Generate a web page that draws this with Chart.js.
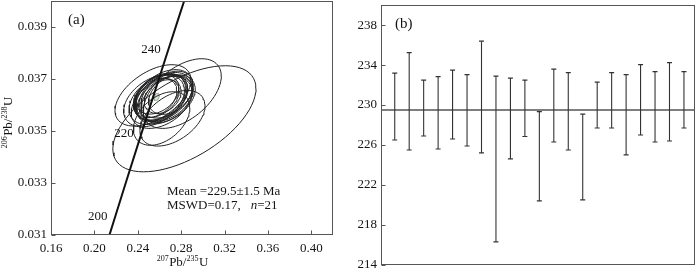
<!DOCTYPE html>
<html>
<head>
<meta charset="utf-8">
<script src="https://cdn.jsdelivr.net/npm/chart.js@4.4.0/dist/chart.umd.min.js"></script>
<style>
  body { margin: 0; background: #fff; }
  #wrap { position: relative; width: 700px; height: 270px; }
  #chartA { position: absolute; left: 0; top: 0; }
  #chartB { position: absolute; left: 350px; top: 0; }
</style>
</head>
<body>
<div id="wrap">
  <canvas id="chartA" width="345" height="270"></canvas>
  <canvas id="chartB" width="350" height="270"></canvas>
</div>
<script>
// concordia points (age in Ma, 207Pb/235U, 206Pb/238U)
let concordiaAges = [190, 200, 210, 220, 230, 240, 250, 260];
let concordiaX = [0.205774, 0.217708, 0.22976, 0.241931, 0.254222, 0.266636, 0.279172, 0.29183];
let concordiaY = [0.0299124, 0.0315113, 0.0331126, 0.0347164, 0.0363228, 0.0379316, 0.039543, 0.0411568];
let labeledAges = [200, 220, 240];

// spot ellipses: centre, half widths, correlation
let ellX = [0.262, 0.254, 0.258, 0.265, 0.26, 0.268, 0.281, 0.283, 0.262, 0.256, 0.272,
            0.266, 0.259, 0.262, 0.263, 0.27, 0.255, 0.267, 0.261, 0.264, 0.258];
let ellY = [0.03629, 0.03637, 0.03627, 0.03619, 0.03632, 0.03624, 0.03644, 0.03547, 0.0361, 0.03627, 0.03549,
            0.03631, 0.03622, 0.03548, 0.03632, 0.03639, 0.03616, 0.0364, 0.03628, 0.03636, 0.0364];
let ellSx = [0.024, 0.035, 0.02, 0.026, 0.024, 0.025, 0.036, 0.066, 0.028, 0.02, 0.03,
             0.025, 0.027, 0.026, 0.017, 0.02, 0.028, 0.024, 0.024, 0.027, 0.02];
let ellSy = [0.00088, 0.00118, 0.00075, 0.00092, 0.0009, 0.00092, 0.00134, 0.00204, 0.001, 0.00076, 0.00107,
             0.00094, 0.00097, 0.00103, 0.00065, 0.00075, 0.001, 0.0009, 0.0009, 0.001, 0.00075];
let ellRho = [0.4, 0.5, 0.35, 0.4, 0.35, 0.4, 0.5, 0.57, 0.4, 0.35, 0.45,
              0.35, 0.4, 0.4, 0.3, 0.35, 0.4, 0.4, 0.35, 0.4, 0.35];
let meanEll = [0.2574, 0.03631, 0.0025, 0.00014, 0.4];

let xTicksA = [0.16, 0.20, 0.24, 0.28, 0.32, 0.36, 0.40];
let yTicksA = [0.031, 0.033, 0.035, 0.037, 0.039];

// panel b: 206Pb/238U ages
let spotNo = [1, 2, 3, 4, 5, 6, 7, 8, 9, 10, 11, 12, 13, 14, 15, 16, 17, 18, 19, 20, 21];
let ageLow = [226.5, 225.5, 226.9, 225.6, 226.6, 225.9, 225.2, 216.3, 224.6, 226.85, 220.4,
              226.3, 225.5, 220.5, 227.7, 227.7, 225.0, 227.0, 226.3, 226.4, 227.7];
let ageHigh = [233.2, 235.25, 232.5, 232.85, 233.5, 233.05, 236.4, 232.9, 232.7, 232.5, 229.35,
               233.6, 233.25, 229.1, 232.3, 233.25, 233.05, 234.05, 233.35, 234.25, 233.35];
let meanAge = 229.5;
let yTicksB = [214, 218, 222, 226, 230, 234, 238];

const SERIF = "'Liberation Serif', 'Times New Roman', serif";
Chart.defaults.font.family = SERIF;
Chart.defaults.font.size = 13;
Chart.defaults.color = "#151515";

function ellipsePoints(cx, cy, sx, sy, rho) {
  let pts = [];
  let k = Math.sqrt(1 - rho * rho);
  for (let d = 0; d <= 360; d += 5) {
    let t = (d * Math.PI) / 180;
    pts.push({ x: cx + sx * Math.cos(t), y: cy + sy * (rho * Math.cos(t) + k * Math.sin(t)) });
  }
  return pts;
}

function frameAndTicks(chart, xTicks, yTicks) {
  let ctx = chart.ctx;
  let a = chart.chartArea;
  ctx.save();
  ctx.strokeStyle = "#555";
  ctx.lineWidth = 1;
  let l = Math.round(a.left) + 0.5, t = Math.round(a.top) + 0.5;
  let r = Math.round(a.right) - 0.5, b = Math.round(a.bottom) - 0.5;
  ctx.strokeRect(l, t, r - l, b - t);
  ctx.beginPath();
  xTicks.forEach(v => {
    let px = Math.round(chart.scales.x.getPixelForValue(v)) + 0.5;
    ctx.moveTo(px, b);
    ctx.lineTo(px, b - 4);
  });
  yTicks.forEach(v => {
    let py = Math.round(chart.scales.y.getPixelForValue(v)) + 0.5;
    ctx.moveTo(l, py);
    ctx.lineTo(l + 4, py);
  });
  ctx.stroke();
  ctx.restore();
}

// isotope ratio title with small raised mass numbers, centred on (0,0)
function isoTitle(ctx, parts) {
  let big = "13px " + SERIF, small = "8px " + SERIF;
  let w = 0;
  parts.forEach(p => { ctx.font = p.sup ? small : big; w += ctx.measureText(p.t).width; });
  let x = -w / 2;
  ctx.textAlign = "left";
  ctx.textBaseline = "alphabetic";
  parts.forEach(p => {
    ctx.font = p.sup ? small : big;
    ctx.fillText(p.t, x, p.sup ? -1 : 4);
    x += ctx.measureText(p.t).width + (p.sup ? 0.5 : 0);
  });
}

const panelA = {
  id: "panelA",
  afterDatasetsDraw(chart) {
    frameAndTicks(chart, xTicksA, yTicksA);
    let ctx = chart.ctx;
    let a = chart.chartArea;
    let x = chart.scales.x, y = chart.scales.y;
    ctx.save();
    ctx.fillStyle = "#151515";
    ctx.textBaseline = "middle";
    ctx.font = "15px " + SERIF;
    ctx.fillText("(a)", a.left + 17, a.top + 19);

    ctx.font = "13px " + SERIF;
    ctx.textAlign = "right";
    labeledAges.forEach(age => {
      let i = concordiaAges.indexOf(age);
      ctx.fillText(String(age), x.getPixelForValue(concordiaX[i]) - 6, y.getPixelForValue(concordiaY[i]) - 5);
    });

    ctx.textAlign = "left";
    let tx = a.left + 116;
    ctx.fillText("Mean =229.5\u00b11.5 Ma", tx, 192);
    let part = "MSWD=0.17,";
    ctx.fillText(part, tx, 206);
    let nx = tx + ctx.measureText(part).width + 10;
    ctx.font = "italic 13px " + SERIF;
    ctx.fillText("n", nx, 206);
    let nw = ctx.measureText("n").width;
    ctx.font = "13px " + SERIF;
    ctx.fillText("=21", nx + nw, 206);

    // axis titles
    ctx.save();
    ctx.translate(a.left + (a.right - a.left) / 2 - 10, 262);
    isoTitle(ctx, [{ t: "207", sup: true }, { t: "Pb/" }, { t: "235", sup: true }, { t: "U" }]);
    ctx.restore();
    ctx.save();
    ctx.translate(8, a.top + (a.bottom - a.top) / 2 + 5);
    ctx.rotate(-Math.PI / 2);
    isoTitle(ctx, [{ t: "206", sup: true }, { t: "Pb/" }, { t: "238", sup: true }, { t: "U" }]);
    ctx.restore();
    ctx.restore();
  }
};

const panelB = {
  id: "panelB",
  afterDatasetsDraw(chart) {
    frameAndTicks(chart, [], yTicksB);
    let ctx = chart.ctx;
    let a = chart.chartArea;
    ctx.save();
    ctx.fillStyle = "#151515";
    ctx.textBaseline = "middle";
    ctx.font = "15px " + SERIF;
    ctx.fillText("(b)", a.left + 14, a.top + 19);
    ctx.restore();
  }
};

// datasets for panel a
let datasetsA = [];
datasetsA.push({
  data: concordiaX.map((v, i) => ({ x: v, y: concordiaY[i] })),
  showLine: true, borderColor: "#111", borderWidth: 2, pointRadius: 0, tension: 0
});
ellX.forEach((cx, i) => {
  datasetsA.push({
    data: ellipsePoints(cx, ellY[i], ellSx[i], ellSy[i], ellRho[i]),
    showLine: true, borderColor: "#222", borderWidth: 1, pointRadius: 0, tension: 0
  });
});
datasetsA.push({
  data: ellipsePoints(meanEll[0], meanEll[1], meanEll[2], meanEll[3], meanEll[4]),
  showLine: true, borderColor: "#8a9a88", borderWidth: 0.8, pointRadius: 0,
  fill: "shape", backgroundColor: "#d6e8cf"
});

new Chart(document.getElementById("chartA"), {
  type: "scatter",
  data: { datasets: datasetsA },
  options: {
    responsive: false,
    animation: false,
    layout: { padding: { left: 0, right: 12, top: 1, bottom: 0 } },
    plugins: { legend: { display: false }, tooltip: { enabled: false } },
    scales: {
      x: {
        type: "linear", min: 0.16, max: 0.42,
        afterBuildTicks: s => { s.ticks = xTicksA.map(v => ({ value: v })); },
        afterFit: s => { s.height = 35; s.paddingLeft = 0; s.paddingRight = 0; },
        grid: { display: false, drawTicks: false },
        border: { display: false },
        ticks: { padding: 6, autoSkip: false, maxRotation: 0, callback: v => v.toFixed(2) }
      },
      y: {
        type: "linear", min: 0.031, max: 0.040,
        afterBuildTicks: s => { s.ticks = yTicksA.map(v => ({ value: v })); },
        afterFit: s => { s.width = 51; s.paddingTop = 0; s.paddingBottom = 0; },
        grid: { display: false, drawTicks: false },
        border: { display: false },
        ticks: { padding: 4, autoSkip: false, callback: v => v.toFixed(3) }
      }
    }
  },
  plugins: [panelA]
});

// panel b: error bars as broken line segments
let barPoints = [];
spotNo.forEach((n, i) => {
  barPoints.push({ x: n, y: ageLow[i] }, { x: n, y: ageHigh[i] }, { x: n, y: null });
});
let xMinB = 0.05, xMaxB = 21.75;

new Chart(document.getElementById("chartB"), {
  type: "scatter",
  data: {
    datasets: [
      {
        data: barPoints, showLine: true, spanGaps: false,
        borderColor: "#333", borderWidth: 1.1,
        pointStyle: "line", pointRadius: 2.5, pointBorderWidth: 1.2, pointBorderColor: "#333"
      },
      {
        data: [{ x: xMinB, y: meanAge }, { x: xMaxB, y: meanAge }],
        showLine: true, borderColor: "#555", borderWidth: 1.5, pointRadius: 0
      }
    ]
  },
  options: {
    responsive: false,
    animation: false,
    layout: { padding: { left: 0, right: 3, top: 1, bottom: 5 } },
    plugins: { legend: { display: false }, tooltip: { enabled: false } },
    scales: {
      x: { type: "linear", min: xMinB, max: xMaxB, display: false },
      y: {
        type: "linear", min: 214, max: 240,
        afterBuildTicks: s => { s.ticks = yTicksB.map(v => ({ value: v })); },
        afterFit: s => { s.width = 31; s.paddingTop = 0; s.paddingBottom = 0; },
        grid: { display: false, drawTicks: false },
        border: { display: false },
        ticks: { padding: 4, autoSkip: false }
      }
    }
  },
  plugins: [panelB]
});
</script>
</body>
</html>
